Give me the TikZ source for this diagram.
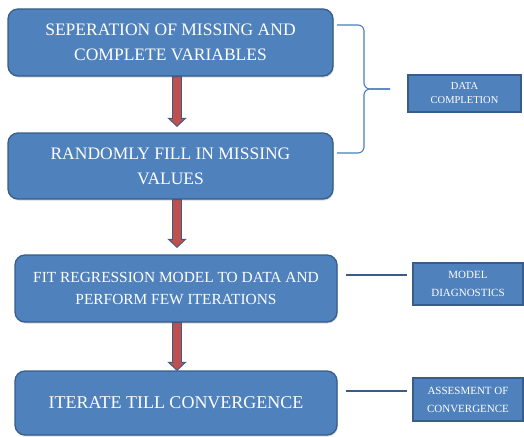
\documentclass[tikz,border=0pt]{standalone}
\usepackage{fontspec}
\setmainfont{Liberation Serif}
\usetikzlibrary{calc,shadows}
\definecolor{boxblue}{HTML}{4F81BD}
\definecolor{edgeblue}{HTML}{385D8A}
\definecolor{arrowred}{HTML}{C0504D}
\definecolor{linkblue}{HTML}{4A7EBB}

% block arrow from the bottom of #1 down towards the top of #2, stopping #3 pt short
\newcommand\flowarrow[3]{%
  \draw[flow] ($(ax |- #1.south)+(-4.5,0)$)
    -- ($(ax |- #2.north)+(-4.5,-#3-8)$)
    -- ($(ax |- #2.north)+(-8.5,-#3-8)$)
    -- ($(ax |- #2.north)+(0,-#3)$)
    -- ($(ax |- #2.north)+(8.5,-#3-8)$)
    -- ($(ax |- #2.north)+(4.5,-#3-8)$)
    -- ($(ax |- #1.south)+(4.5,0)$) -- cycle;}

\begin{document}
\begin{tikzpicture}[x=1pt,y=-1pt,
  stage/.style={draw=edgeblue, line width=1.3pt, fill=boxblue, rounded corners=10pt,
    text=white, align=center, inner sep=0pt,
    drop shadow={opacity=0.3, shadow xshift=0.8pt, shadow yshift=-1.5pt}},
  tag/.style={draw=edgeblue, line width=1.3pt, fill=boxblue, text=white,
    align=center, inner sep=0pt},
  flow/.style={draw=edgeblue, line width=0.9pt, fill=arrowred, line join=miter},
  link/.style={draw=edgeblue, line width=1.6pt},
  brace/.style={draw=linkblue, line width=1.1pt, rounded corners=6pt}]

\useasboundingbox (0,0) rectangle (524,436);

\coordinate (ax) at (177,0);

% main stages
\node[stage, minimum width=325pt, minimum height=67pt,
  font=\fontsize{17.5}{25}\selectfont] (b1) at (170.5,42.5)
  {SEPERATION OF MISSING AND\\COMPLETE VARIABLES};
\node[stage, minimum width=325pt, minimum height=66pt,
  font=\fontsize{17.5}{25}\selectfont] (b2) at (170.5,166)
  {RANDOMLY FILL IN MISSING\\VALUES};
\node[stage, minimum width=322pt, minimum height=67pt,
  font=\fontsize{15.4}{22}\selectfont] (b3) at (176,288.5)
  {FIT REGRESSION MODEL TO DATA AND\\PERFORM FEW ITERATIONS};
\node[stage, minimum width=322pt, minimum height=64pt,
  font=\fontsize{18}{22}\selectfont] (b4) at (176,403)
  {ITERATE TILL CONVERGENCE};

% side tags
\node[tag, minimum width=113pt, minimum height=37pt,
  font=\fontsize{10.5}{14}\selectfont] (dc) at (464.5,93.5)
  {DATA\\COMPLETION};
\node[tag, minimum width=110pt, minimum height=42pt,
  font=\fontsize{11}{18}\selectfont] (md) at (468,284)
  {MODEL\\DIAGNOSTICS};
\node[tag, minimum width=110pt, minimum height=43pt,
  font=\fontsize{11}{18}\selectfont] (ac) at (468,399.5)
  {ASSESMENT OF\\CONVERGENCE};

% flow arrows
\flowarrow{b1}{b2}{6}
\flowarrow{b2}{b3}{7}
\flowarrow{b3}{b4}{0}

% brace grouping the first two stages
\coordinate (bt) at (337,25);
\coordinate (bb) at (337,153);
\coordinate (bm) at (390,89);
\draw[brace] (bt) -- (364,25) -- (364,89) -- (bm);
\draw[brace] (bm) -- (364,89) -- (364,153) -- (bb);

% links to the side tags
\draw[link] ([shift={(8,-13.5)}]b3.east) -- ([shift={(-5,-9)}]md.west);
\draw[link] ([shift={(8,-12)}]b4.east) -- ([shift={(-5,-8.5)}]ac.west);
\end{tikzpicture}
\end{document}
